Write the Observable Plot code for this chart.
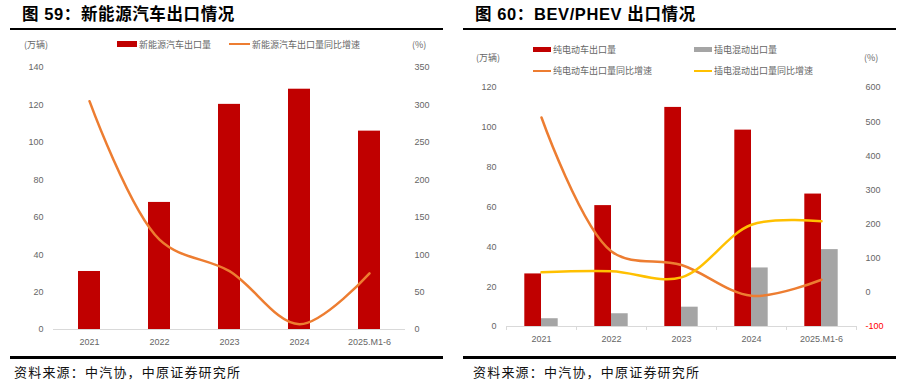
<!DOCTYPE html>
<html><head><meta charset="utf-8">
<script src="https://cdn.jsdelivr.net/npm/d3@7"></script>
<script src="https://cdn.jsdelivr.net/npm/@observablehq/plot@0.6"></script>
<style>
body{margin:0;background:#fff;width:906px;height:385px;position:relative;overflow:hidden;font-family:"Noto Sans CJK SC","Noto Sans",sans-serif;}
.abs{position:absolute;white-space:nowrap;line-height:1;}
.title{font-family:"Liberation Sans","Noto Sans CJK SC",sans-serif;font-size:16.5px;font-weight:bold;color:#000;letter-spacing:0.6px;}
.rule{position:absolute;background:#000;}
.leg{font-size:9px;color:#666;}
.foot{font-size:13px;color:#111;letter-spacing:1.2px;}
.sw{position:absolute;}
.chart{position:absolute;}
</style>
</head><body>
<div class="abs title" style="left:22px;top:6px;">图 59：新能源汽车出口情况</div>
<div class="rule" style="left:10px;top:28px;width:433px;height:2px;"></div>
<div class="abs title" style="left:475px;top:6px;">图 60：BEV/PHEV 出口情况</div>
<div class="rule" style="left:463px;top:28px;width:433px;height:2px;"></div>

<div class="abs leg" style="left:24px;top:40px;">(万辆)</div>
<div class="sw" style="left:117px;top:41px;width:20px;height:6px;background:#C00000;"></div>
<div class="abs leg" style="left:139px;top:40px;">新能源汽车出口量</div>
<div class="sw" style="left:229px;top:43px;width:21px;height:2px;background:#ED7D31;"></div>
<div class="abs leg" style="left:252px;top:40px;">新能源汽车出口量同比增速</div>
<div class="abs leg" style="left:412px;top:40px;">(%)</div>

<div class="abs leg" style="left:476px;top:53px;">(万辆)</div>
<div class="abs leg" style="left:864px;top:53px;">(%)</div>
<div class="sw" style="left:533px;top:47px;width:18px;height:5px;background:#C00000;"></div>
<div class="abs leg" style="left:553px;top:45px;">纯电动车出口量</div>
<div class="sw" style="left:694px;top:47px;width:18px;height:5px;background:#A5A5A5;"></div>
<div class="abs leg" style="left:714px;top:45px;">插电混动出口量</div>
<div class="sw" style="left:533px;top:70px;width:18px;height:2px;background:#ED7D31;"></div>
<div class="abs leg" style="left:553px;top:66px;">纯电动车出口量同比增速</div>
<div class="sw" style="left:694px;top:70px;width:18px;height:2px;background:#FFC000;"></div>
<div class="abs leg" style="left:714px;top:66px;">插电混动出口量同比增速</div>

<div id="c1" class="chart" style="left:0;top:55px;"></div>
<div id="c2" class="chart" style="left:453px;top:75px;"></div>

<div class="rule" style="left:10px;top:356px;width:433px;height:2.5px;"></div>
<div class="rule" style="left:463px;top:356px;width:433px;height:2.5px;"></div>
<div class="abs foot" style="left:14px;top:365px;">资料来源：中汽协，中原证券研究所</div>
<div class="abs foot" style="left:473px;top:365px;">资料来源：中汽协，中原证券研究所</div>

<script>
// ---- data ----
const years = ["2021", "2022", "2023", "2024", "2025.M1-6"];
const nevExports = [31.0, 67.9, 120.3, 128.4, 106.0];     // 万辆
const nevGrowth = [305, 120, 78, 7, 75];                   // %
const bevExports = [26.4, 60.7, 110.0, 98.6, 66.5];       // 万辆
const phevExports = [3.9, 6.4, 9.7, 29.4, 38.6];          // 万辆
const bevGrowth = [512, 120, 80, -10, 37];                 // %
const phevGrowth = [59, 62, 44, 198, 208];                 // %
const leftTicks1 = [0, 20, 40, 60, 80, 100, 120, 140];
const rightTicks1 = [0, 50, 100, 150, 200, 250, 300, 350];
const leftTicks2 = [0, 20, 40, 60, 80, 100, 120];
const rightTicks2 = [0, 100, 200, 300, 400, 500, 600];
const rightNegTick2 = [-100];

const RED = "#C00000", GRAY = "#A5A5A5", ORANGE = "#ED7D31", YELLOW = "#FFC000";
const FONT = "'Liberation Sans', Arial, sans-serif";

// ---- chart 1 ----
const d1 = years.map((y, i) => ({year: y, v: nevExports[i], g: nevGrowth[i]}));
const k1 = 140 / 350;
const p1 = Plot.plot({
  width: 453, height: 300,
  marginTop: 12, marginBottom: 26, marginLeft: 53, marginRight: 48,
  style: {fontSize: "9px", fontFamily: FONT, color: "#666", background: "transparent"},
  x: {domain: years, padding: 0, label: null},
  y: {domain: [0, 140], label: null},
  marks: [
    Plot.barY(d1, {x: "year", y: "v", fill: RED, insetLeft: 24, insetRight: 24}),
    Plot.ruleY([0], {stroke: "#D9D9D9", strokeWidth: 1}),
    Plot.line(d1, {x: "year", y: d => d.g * k1, stroke: ORANGE, strokeWidth: 2.5, curve: "catmull-rom"}),
    Plot.axisY(leftTicks1, {anchor: "left", tickSize: 0, tickPadding: 10, label: null}),
    Plot.axisY(rightTicks1.map(v => v * k1), {anchor: "right", tickSize: 0, tickPadding: 9, label: null, tickFormat: d => Math.round(d / k1)}),
    Plot.axisX({tickSize: 0, tickPadding: 9, label: null})
  ]
});
document.getElementById("c1").appendChild(p1);

// ---- chart 2 ----
const d2 = years.map((y, i) => ({year: y, bev: bevExports[i], phev: phevExports[i], bg: bevGrowth[i], pg: phevGrowth[i]}));
const k2 = 120 / 700;
const toL = r => (r + 100) * k2;
const p2 = Plot.plot({
  width: 453, height: 280,
  marginTop: 12, marginBottom: 29, marginLeft: 53, marginRight: 50,
  style: {fontSize: "9px", fontFamily: FONT, color: "#666", background: "transparent"},
  x: {domain: years, padding: 0, label: null},
  y: {domain: [0, 120], label: null},
  marks: [
    Plot.barY(d2, {x: "year", y: "bev", fill: RED, insetLeft: 18.3, insetRight: 35}),
    Plot.barY(d2, {x: "year", y: "phev", fill: GRAY, insetLeft: 35, insetRight: 18.3}),
    Plot.ruleY([0], {stroke: "#D9D9D9", strokeWidth: 1}),
    Plot.ruleX(years, {x: d => d, dx: -35, y1: 0, y2: -2, stroke: "#D9D9D9"}),
    Plot.ruleX(years.slice(-1), {x: d => d, dx: 35, y1: 0, y2: -2, stroke: "#D9D9D9"}),
    Plot.line(d2, {x: "year", y: d => toL(d.bg), stroke: ORANGE, strokeWidth: 2.5, curve: "catmull-rom"}),
    Plot.line(d2, {x: "year", y: d => toL(d.pg), stroke: YELLOW, strokeWidth: 2.5, curve: "catmull-rom"}),
    Plot.axisY(leftTicks2, {anchor: "left", tickSize: 0, tickPadding: 10, label: null}),
    Plot.axisY(rightTicks2.map(toL), {anchor: "right", tickSize: 0, tickPadding: 9, label: null, tickFormat: d => Math.round(d / k2 - 100)}),
    Plot.axisY(rightNegTick2.map(toL), {anchor: "right", tickSize: 0, tickPadding: 9, label: null, color: "#FF0000", tickFormat: d => Math.round(d / k2 - 100)}),
    Plot.axisX({tickSize: 0, tickPadding: 9, label: null})
  ]
});
document.getElementById("c2").appendChild(p2);
</script>
</body></html>
